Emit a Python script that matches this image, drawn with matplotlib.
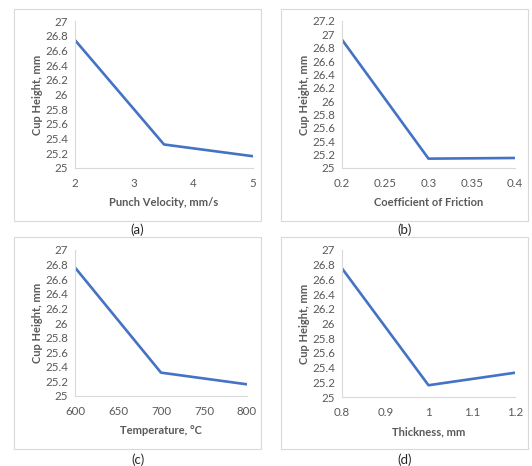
import matplotlib
matplotlib.use("Agg")
import matplotlib.pyplot as plt
from matplotlib.patches import Rectangle

plt.rcParams['font.family'] = ['Lato', 'DejaVu Sans']

# Data
velocity = [2, 3.5, 5]
height_velocity = [26.74, 25.32, 25.16]
friction = [0.2, 0.3, 0.4]
height_friction = [26.92, 25.14, 25.15]
temperature = [600, 700, 800]
height_temperature = [26.76, 25.32, 25.16]
thickness = [0.8, 1.0, 1.2]
height_thickness = [26.75, 25.16, 25.33]

xticks_a = [2, 3, 4, 5]
xticks_b = [0.2, 0.25, 0.3, 0.35, 0.4]
xticks_c = [600, 650, 700, 750, 800]
xticks_d = [0.8, 0.9, 1, 1.1, 1.2]
yticks_a = [25, 25.2, 25.4, 25.6, 25.8, 26, 26.2, 26.4, 26.6, 26.8, 27]
yticks_b = [25, 25.2, 25.4, 25.6, 25.8, 26, 26.2, 26.4, 26.6, 26.8, 27, 27.2]

xlabels = ["Punch Velocity, mm/s", "Coefficient of Friction", "Temperature, \u00b0C", "Thickness, mm"]
panel_labels = ["(a)", "(b)", "(c)", "(d)"]

W, H = 532, 466
fig = plt.figure(figsize=(W / 100, H / 100), dpi=100)
fig.patch.set_facecolor("white")

line_color = "#4472C4"
text_color = "#595959"
axis_color = "#D9D9D9"

def px_rect(x0, y0, x1, y1):
    return [x0 / W, 1 - y1 / H, (x1 - x0) / W, (y1 - y0) / H]

# panel frames (pixel coords)
frames = [(14, 9, 261, 221), (281, 9, 528, 221), (14, 237, 261, 449), (281, 237, 528, 449)]
for (x0, y0, x1, y1) in frames:
    r = Rectangle((x0 / W, 1 - y1 / H), (x1 - x0) / W, (y1 - y0) / H,
                  transform=fig.transFigure, fill=False, edgecolor="#D9D9D9", lw=0.8)
    fig.patches.append(r)

axes_px = [(75, 21, 253, 168), (342, 21, 515, 168), (75, 250, 247, 396), (342, 250, 515, 397)]
datasets = [
    (velocity, height_velocity, xticks_a, yticks_a),
    (friction, height_friction, xticks_b, yticks_b),
    (temperature, height_temperature, xticks_c, yticks_a),
    (thickness, height_thickness, xticks_d, yticks_a),
]
panel_label_y = [230, 230, 460, 460]

for i, ((x0, y0, x1, y1), (xs, ys, xt, yt)) in enumerate(zip(axes_px, datasets)):
    ax = fig.add_axes(px_rect(x0, y0, x1, y1))
    ax.plot(xs, ys, color=line_color, lw=1.9, solid_joinstyle="round")
    ax.set_xlim(xt[0], xt[-1])
    ax.set_ylim(yt[0], yt[-1])
    ax.set_xticks(xt)
    ax.set_xticklabels(["%g" % v for v in xt])
    ax.set_yticks(yt)
    ax.set_yticklabels(["%g" % v for v in yt])
    ax.tick_params(length=0, labelsize=8.3, colors=text_color)
    ax.tick_params(axis="x", pad=7)
    ax.tick_params(axis="y", pad=5)
    for s in ["top", "right"]:
        ax.spines[s].set_visible(False)
    for s in ["left", "bottom"]:
        ax.spines[s].set_color(axis_color)
        ax.spines[s].set_linewidth(0.8)
    ax.set_xlabel(xlabels[i], fontsize=8, fontweight="bold", color=text_color, labelpad=6)
    ax.set_ylabel("Cup Height, mm", fontsize=8, fontweight="bold", color=text_color, labelpad=1.5)
    ax.patch.set_alpha(0)
    cx = (frames[i][0] + frames[i][2]) / 2
    fig.text(cx / W, 1 - panel_label_y[i] / H, panel_labels[i], ha="center", va="center",
             fontsize=9.5, color="#262626")

fig.savefig("out.png", dpi=100)
